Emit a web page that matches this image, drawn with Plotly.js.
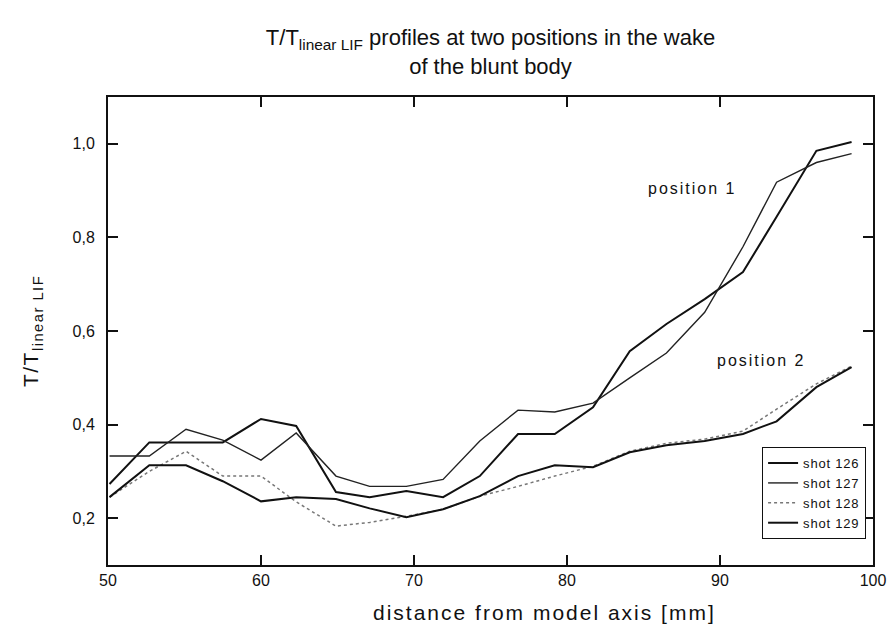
<!DOCTYPE html>
<html>
<head>
<meta charset="utf-8">
<script src="https://cdn.plot.ly/plotly-3.0.1.min.js"></script>
<style>
html,body{margin:0;padding:0;background:#fff;}
#chart{width:892px;height:637px;}
#chart .ytitle{letter-spacing:1.5px;}
#chart .annotation-text{letter-spacing:2px;}
#chart .annotation:nth-of-type(3) .annotation-text{letter-spacing:4.6px;}
.legendtext{letter-spacing:0.8px;}
</style>
</head>
<body>
<div id="chart"></div>
<script>
// distance from model axis [mm]
const distance = [50.1, 52.7, 55.1, 57.5, 60.0, 62.3, 64.9, 67.1, 69.5, 71.9, 74.3, 76.8, 79.2, 81.7, 84.1, 86.5, 89.0, 91.5, 93.7, 96.3, 98.6];
// position 1
const shot126 = [0.273, 0.362, 0.362, 0.362, 0.412, 0.397, 0.256, 0.245, 0.258, 0.245, 0.290, 0.380, 0.380, 0.437, 0.557, 0.615, 0.668, 0.726, 0.844, 0.985, 1.004];
const shot127 = [0.333, 0.333, 0.390, 0.367, 0.324, 0.382, 0.290, 0.268, 0.268, 0.283, 0.365, 0.431, 0.427, 0.446, 0.500, 0.553, 0.640, 0.780, 0.918, 0.960, 0.979];
// position 2
const shot128 = [0.245, 0.300, 0.343, 0.290, 0.290, 0.235, 0.183, 0.191, 0.204, 0.219, 0.247, 0.268, 0.290, 0.311, 0.343, 0.360, 0.369, 0.386, 0.433, 0.487, 0.525];
const shot129 = [0.245, 0.313, 0.313, 0.279, 0.236, 0.245, 0.241, 0.221, 0.202, 0.219, 0.247, 0.290, 0.313, 0.309, 0.341, 0.356, 0.365, 0.380, 0.407, 0.480, 0.523];

const seriesNames = ['shot 126', 'shot 127', 'shot 128', 'shot 129'];
const annotLabels = ['position 1', 'position 2'];
const annotX = [88.2, 92.7];
const annotY = [0.904, 0.536];
const xTitle = 'distance from model axis [mm]';

const font = 'Liberation Sans, Arial, Helvetica, sans-serif';

const traces = [
  {x: distance, y: shot126, name: seriesNames[0], mode: 'lines', line: {color: '#111', width: 2}},
  {x: distance, y: shot127, name: seriesNames[1], mode: 'lines', line: {color: '#222', width: 1.4}},
  {x: distance, y: shot128, name: seriesNames[2], mode: 'lines', line: {color: '#777', width: 1.5, dash: 'dot'}},
  {x: distance, y: shot129, name: seriesNames[3], mode: 'lines', line: {color: '#111', width: 2}}
];

const axisCommon = {
  ticks: 'inside', tickwidth: 2, tickcolor: '#111',
  showline: true, linecolor: '#111', linewidth: 2, mirror: 'ticks',
  showgrid: false, zeroline: false
};

const layout = {
  width: 892, height: 637,
  margin: {l: 108, r: 19, t: 97, b: 72},
  paper_bgcolor: '#fff', plot_bgcolor: 'rgba(0,0,0,0)',
  separators: ',.',
  font: {family: font, color: '#111', size: 16},
  title: {
    text: 'T/T<sub>linear LIF</sub> profiles at two positions in the wake<br>of the blunt body',
    font: {family: font, size: 22, color: '#111'},
    xref: 'paper', x: 0.5, xanchor: 'center',
    yref: 'container', y: 0.929, yanchor: 'top'
  },
  xaxis: Object.assign({}, axisCommon, {
    range: [50, 100], tickmode: 'linear', tick0: 50, dtick: 10, tickformat: 'd', ticklen: 10,
    tickfont: {size: 16, family: font}
  }),
  yaxis: Object.assign({}, axisCommon, {
    range: [0.1, 1.1], tickmode: 'linear', tick0: 0.2, dtick: 0.2, tickformat: '.1f', ticklen: 10,
    ticklabelstandoff: 8,
    tickfont: {size: 16, family: font},
    title: {text: 'T/T<sub>linear LIF</sub>', font: {size: 21, family: font}, standoff: 28}
  }),
  // minor tick marks drawn by overlay axes
  xaxis2: Object.assign({}, axisCommon, {
    overlaying: 'x', anchor: 'y', matches: 'x', range: [50, 100],
    tickmode: 'linear', tick0: 50, dtick: 5, ticklen: 5, showticklabels: false, side: 'bottom'
  }),
  yaxis2: Object.assign({}, axisCommon, {
    overlaying: 'y', anchor: 'x', matches: 'y', range: [0.1, 1.1],
    tickmode: 'linear', tick0: 0.1, dtick: 0.1, ticklen: 5, showticklabels: false, side: 'left'
  }),
  // major tick marks drawn by overlay axes
  xaxis3: Object.assign({}, axisCommon, {
    overlaying: 'x', anchor: 'y', matches: 'x', range: [50, 100],
    tickmode: 'linear', tick0: 50, dtick: 10, ticklen: 10, showticklabels: false, side: 'bottom'
  }),
  yaxis3: Object.assign({}, axisCommon, {
    overlaying: 'y', anchor: 'x', matches: 'y', range: [0.1, 1.1],
    tickmode: 'linear', tick0: 0.2, dtick: 0.2, ticklen: 10, showticklabels: false, side: 'left'
  }),
  showlegend: true,
  legend: {
    x: 0.855, y: 0.252, xanchor: 'left', yanchor: 'top',
    bgcolor: '#fff', bordercolor: '#111', borderwidth: 1,
    font: {size: 13, family: font, color: '#111'},
    tracegroupgap: 0
  },
  annotations: annotLabels.map((t, i) => ({
    x: annotX[i], y: annotY[i], xref: 'x', yref: 'y', text: t, showarrow: false,
    font: {size: 16, family: font, color: '#111'}
  })).concat([{
    x: 0.57, y: -0.072, xref: 'paper', yref: 'paper', xanchor: 'center', yanchor: 'top',
    text: xTitle, showarrow: false, font: {size: 21, family: font, color: '#111'}
  }])
};

Plotly.newPlot('chart', traces, layout, {displayModeBar: false, staticPlot: true});
</script>
</body>
</html>
